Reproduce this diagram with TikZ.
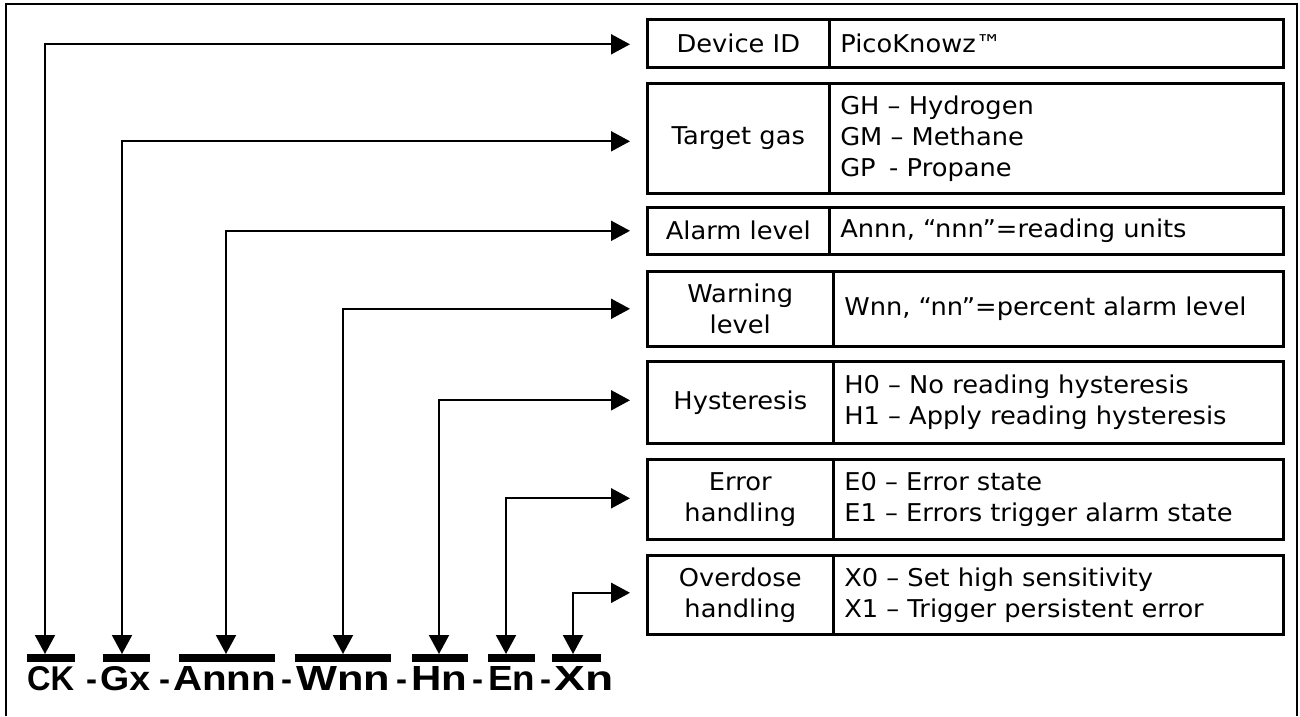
\documentclass[tikz,border=0pt]{standalone}
\usepackage{graphicx}
\usepackage{fontspec}
\setmainfont{DejaVu Sans}[FakeStretch=1.05, WordSpace=1.3]
\newfontfamily\codefont{Liberation Sans}
\usetikzlibrary{arrows.meta}

% ordering-code piece set to a given width and cap height
\newcommand{\fitcode}[2]{\resizebox{#1pt}{24pt}{#2}}
\newcommand{\fitdash}[1]{\resizebox{#1pt}{\height}{-}}

\begin{document}
\begin{tikzpicture}[x=1pt,y=-1pt,
  tabfont/.style={font=\fontsize{24.5}{31}\selectfont},
  lcell/.style={draw, line width=2.6pt, anchor=north west, inner xsep=0pt, inner ysep=0pt,
                align=center, tabfont},
  rcell/.style={draw, line width=2.6pt, anchor=north west, inner xsep=11pt, inner ysep=0pt,
                align=left, tabfont},
  bar/.style={fill=black, draw=none, anchor=north, inner sep=0pt, minimum height=8pt},
  code/.style={anchor=base west, inner sep=0pt, font=\fontsize{33pt}{36pt}\selectfont\codefont\bfseries},
  conn/.style={line width=2pt,
               {Triangle[length=19pt,width=20pt]}-{Triangle[length=19pt,width=20pt]},
               shorten >=16pt}
]
\useasboundingbox (0,0) rectangle (1300,716);

% outer frame
\draw[line width=2.6pt] (6,716) -- (6,4) -- (1297,4) -- (1297,716);

% field table, one row per part of the ordering code
\node[lcell, minimum height=48pt, text width=182pt] (devL) at (646,18) {Device ID};
\node[rcell, minimum height=48pt, text width=432pt] (devR) at (828,18) {PicoKnowz™};

\node[lcell, minimum height=110pt, text width=182pt] (gasL) at (646,82) {Target gas};
\node[rcell, minimum height=110pt, text width=432pt] (gasR) at (828,82)
  {GH – Hydrogen\\GM – Methane\\GP\hspace{0.55em}- Propane};

\node[lcell, minimum height=47pt, text width=182pt] (almL) at (646,206) {Alarm level};
\node[rcell, minimum height=47pt, text width=432pt] (almR) at (828,206)
  {Annn, “nnn”=reading units};

\node[lcell, minimum height=75pt, text width=186pt] (wrnL) at (646,270) {Warning\\level};
\node[rcell, minimum height=75pt, text width=428pt] (wrnR) at (832,270)
  {Wnn, “nn”=percent alarm level};

\node[lcell, minimum height=82pt, text width=186pt] (hysL) at (646,360) {Hysteresis};
\node[rcell, minimum height=82pt, text width=428pt] (hysR) at (832,360)
  {H0 – No reading hysteresis\\H1 – Apply reading hysteresis};

\node[lcell, minimum height=80pt, text width=186pt] (errL) at (646,458) {Error\\handling};
\node[rcell, minimum height=80pt, text width=428pt] (errR) at (832,458)
  {E0 – Error state\\E1 – Errors trigger alarm state};

\node[lcell, minimum height=79pt, text width=186pt] (ovdL) at (646,554) {Overdose\\handling};
\node[rcell, minimum height=79pt, text width=428pt] (ovdR) at (832,554)
  {X0 – Set high sensitivity\\X1 – Trigger persistent error};

% bars over the code fields
\node[bar, minimum width=48pt] (bCK) at (51,654) {};
\node[bar, minimum width=47pt] (bG)  at (126.5,654) {};
\node[bar, minimum width=96pt] (bA)  at (227,654) {};
\node[bar, minimum width=96pt] (bW)  at (343,654) {};
\node[bar, minimum width=56pt] (bH)  at (440,654) {};
\node[bar, minimum width=47pt] (bE)  at (511.5,654) {};
\node[bar, minimum width=49pt] (bX)  at (576.5,654) {};

% ordering code
\node[code] (cCK) at (27,690)  {\fitcode{47}{CK}};
\node[code] (h1)  at (86,690)  {\fitdash{11}};
\node[code] (cG)  at (100,690) {\fitcode{50}{Gx}};
\node[code] (h2)  at (159,690) {\fitdash{11}};
\node[code] (cA)  at (173,690) {\fitcode{103}{Annn}};
\node[code] (h3)  at (281,690) {\fitdash{11}};
\node[code] (cW)  at (296,690) {\fitcode{94}{Wnn}};
\node[code] (h4)  at (396,690) {\fitdash{11}};
\node[code] (cH)  at (411,690) {\fitcode{56}{Hn}};
\node[code] (h5)  at (472,690) {\fitdash{11}};
\node[code] (cE)  at (488,690) {\fitcode{47}{En}};
\node[code] (h6)  at (540,690) {\fitdash{11}};
\node[code] (cX)  at (554,690) {\fitcode{59}{Xn}};

% connectors from each field to its description
\draw[conn] ([xshift=-6pt]bCK.north) |- ([yshift=-1pt]devL.west);
\draw[conn] ([xshift=-4.5pt]bG.north) |- ([yshift=-3pt]gasL.west);
\draw[conn] ([xshift=-1pt]bA.north)  |- (almL.west);
\draw[conn] (bW.north)               |- (wrnL.west);
\draw[conn] ([xshift=-1pt]bH.north)  |- ([yshift=2pt]hysL.west);
\draw[conn] ([xshift=-5.5pt]bE.north) |- ([yshift=1pt]errL.west);
\draw[conn] ([xshift=-3.5pt]bX.north) |- ([yshift=2pt]ovdL.west);
\end{tikzpicture}
\end{document}
